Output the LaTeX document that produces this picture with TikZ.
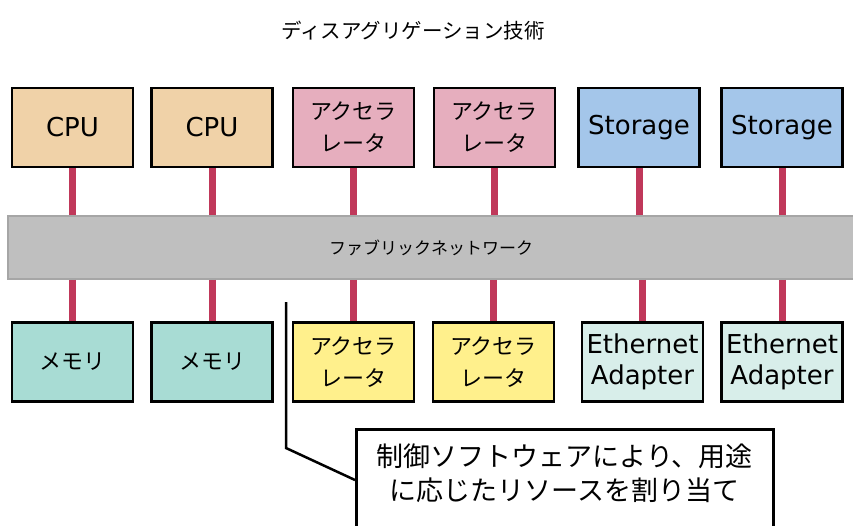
\documentclass[tikz,border=0pt]{standalone}
\usepackage{fontspec}
\setmainfont{DejaVu Sans}
\newfontfamily\jpfont{Noto Sans CJK JP}
\usepackage{tikz}

\definecolor{cpucol}{HTML}{F0D2A8}
\definecolor{acccol}{HTML}{E6AEBE}
\definecolor{stocol}{HTML}{A4C6EA}
\definecolor{memcol}{HTML}{A8DCD4}
\definecolor{yelcol}{HTML}{FFF08C}
\definecolor{ethcol}{HTML}{D8EEEA}
\definecolor{linkcol}{HTML}{C0385A}
\definecolor{fabcol}{HTML}{BFBFBF}
\definecolor{fabedge}{HTML}{A6A6A6}

\tikzset{
	unit/.style={draw=black, line width=2.5pt, minimum width=121pt, minimum height=79pt, inner sep=0pt, align=center, font=\fontsize{26}{31}\selectfont},
	jpunit/.style={unit, font=\jpfont\fontsize{22}{32}\selectfont},
	link/.style={draw=linkcol, line width=7pt}
}

\begin{document}
\begin{tikzpicture}[x=1pt, y=-1pt]
				\useasboundingbox (0,0) rectangle (853,525);
				\node[font=\jpfont\fontsize{20.5}{25}\selectfont] (title) at (413, 31) {ディスアグリゲーション技術};
				\node[unit, fill=cpucol] (cpuA) at (72.5, 127.5) {CPU};
				\node[unit, fill=cpucol] (cpuB) at (212, 127.5) {CPU};
				\node[jpunit, fill=acccol] (accA) at (353.5, 127.5) {アクセラ\\レータ};
				\node[jpunit, fill=acccol] (accB) at (494.5, 127.5) {アクセラ\\レータ};
				\node[unit, fill=stocol] (stoA) at (639, 127.5) {Storage};
				\node[unit, fill=stocol] (stoB) at (782, 127.5) {Storage};
				\node[draw=fabedge, line width=1.5pt, fill=fabcol, minimum width=846pt, minimum height=63pt, inner sep=0pt, font=\jpfont\fontsize{17}{21}\selectfont] (fabric) at (431, 247.5) {ファブリックネットワーク};
				\node[jpunit, fill=memcol] (memA) at (72.5, 362) {メモリ};
				\node[jpunit, fill=memcol] (memB) at (212, 362) {メモリ};
				\node[jpunit, fill=yelcol] (accC) at (353.5, 362) {アクセラ\\レータ};
				\node[jpunit, fill=yelcol] (accD) at (493.5, 362) {アクセラ\\レータ};
				\node[unit, fill=ethcol] (ethA) at (642.5, 362) {Ethernet\\Adapter};
				\node[unit, fill=ethcol] (ethB) at (782, 362) {Ethernet\\Adapter};
				\draw[link] (cpuA.south) -- (cpuA.south |- fabric.north);
				\draw[link] (cpuB.south) -- (cpuB.south |- fabric.north);
				\draw[link] (accA.south) -- (accA.south |- fabric.north);
				\draw[link] (accB.south) -- (accB.south |- fabric.north);
				\draw[link] (stoA.south) -- (stoA.south |- fabric.north);
				\draw[link] (stoB.south) -- (stoB.south |- fabric.north);
				\draw[link] (memA.north |- fabric.south) -- (memA.north);
				\draw[link] (memB.north |- fabric.south) -- (memB.north);
				\draw[link] (accC.north |- fabric.south) -- (accC.north);
				\draw[link] (accD.north |- fabric.south) -- (accD.north);
				\draw[link] (ethA.north |- fabric.south) -- (ethA.north);
				\draw[link] (ethB.north |- fabric.south) -- (ethB.north);
				\node[draw=black, line width=2.5pt, fill=white, anchor=north west, minimum width=417pt, minimum height=120pt, inner sep=0pt] (note) at (355, 428) {};
				\node[anchor=north, align=center, font=\jpfont\fontsize{27}{34}\selectfont] (notetext) at ([yshift=-12pt]note.north) {制御ソフトウェアにより、用途\\に応じたリソースを割り当て};
				\coordinate (tip) at (286, 302);
				\draw[line width=2.5pt] (tip) -- (286, 448) -- ([yshift=-52pt]note.north west);
			\end{tikzpicture}
\end{document}
